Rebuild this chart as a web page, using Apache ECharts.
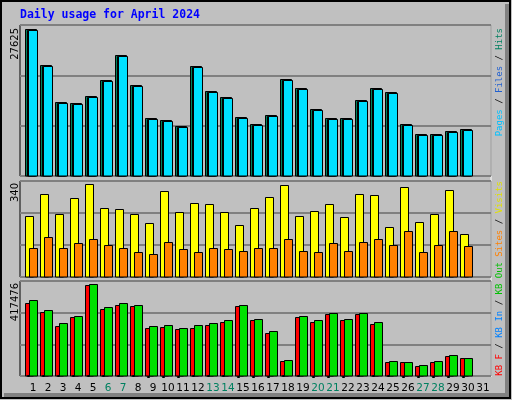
<!DOCTYPE html>
<html><head><meta charset="utf-8">
<script src="https://cdn.jsdelivr.net/npm/echarts@6/dist/echarts.min.js"></script>
<style>html,body{margin:0;padding:0;background:#c0c0c0}#c{width:512px;height:400px}</style>
</head><body><div id="c"></div>
<script>
const days = Array.from({length:31},(_,i)=>i+1);
const weekend = [6,7,13,14,20,21,27,28];
const hits  = [27625,20800,13850,13650,14980,18050,22690,17040,10840,10460,9340,20620,15920,14790,11030,9710,11400,18180,16480,12530,10840,10840,14220,16480,15730,9710,7830,7830,8400,8770,0];
const files = [27400,20620,13670,13480,14800,17860,22500,16860,10660,10280,9160,20440,15740,14610,10850,9530,11220,17990,16300,12350,10660,10660,14040,16300,15550,9530,7650,7650,8220,8590,0];
const pages = [27400,20620,13670,13480,14800,17860,22500,16860,10660,10280,9160,20440,15740,14610,10850,9530,11220,17990,16300,12350,10660,10660,14040,16300,15550,9530,7650,7650,8220,8590,0];
const visits = [222,303,230,289,340,252,248,230,197,314,237,270,266,237,189,252,292,338,222,241,266,219,303,300,182,329,200,230,318,156,0];
const sites  = [105,145,108,123,138,116,105,90,86,130,101,93,105,101,97,105,108,141,97,93,123,97,130,141,116,167,93,119,167,112,0];
const kbF   = [330300,289200,229800,266400,412500,302900,321100,316600,220700,225300,216100,220700,234400,248100,316600,252700,197900,70000,266400,248100,280000,252700,280000,239000,65400,65400,47200,65400,92800,83700,0];
const kbIn  = [4000,4000,4000,4000,4000,4000,4000,4000,2000,2000,2000,4000,4000,4000,2000,2000,2000,4000,4000,2000,2000,2000,4000,4000,4000,2000,2000,2000,2000,2000,0];
const kbOut = [344300,298700,239300,271300,417476,312400,330700,321500,225600,230200,216500,230200,239300,253000,321500,257600,202800,74900,271300,253000,285000,257600,285000,243900,70300,65800,52100,70300,97700,84000,0];
const maxLabels = ['27625','340','417476'];

const xmin = 1 - 11/15, xmax = xmin + 471/15;
function bars(idx, vals, off, w, color){
  return {type:'custom', xAxisIndex:idx, yAxisIndex:idx, data: days.map((d,i)=>[d, vals[i]]),
    renderItem:(p, api)=>{
      const v = api.value(1); if(!v) return null;
      const b = api.coord([api.value(0),0]), t = api.coord([api.value(0),v]);
      const x = Math.round(b[0]) + off + 0.5, y = Math.round(t[1]) + 0.5;
      return {type:'rect', shape:{x:x, y:y, width:w, height:Math.max(1,Math.round(b[1])-y)},
        style:{fill:color, stroke:'#000', lineWidth:1}};
    }};
}
const labelSeries = {type:'custom', xAxisIndex:2, yAxisIndex:2, data: days.map(d=>[d,0]),
  renderItem:(p, api)=>{
    const d = api.value(0); const c = api.coord([d,0]);
    return {type:'text', x:c[0]+2, y:c[1]+12, style:{text:String(d), textAlign:'center', textVerticalAlign:'middle',
      fill: weekend.includes(d)?'#008060':'#000', font:'10.5px "DejaVu Sans"'}};
  }};
const grids = [{left:20,width:471,top:25,height:151},{left:20,width:471,top:181,height:96},{left:20,width:471,top:281,height:95}]
  .map(g=>Object.assign(g,{show:true,backgroundColor:'#c0c0c0',borderColor:'#000',borderWidth:1}));
const ymax = [28400, 352, 432500];
const chart = echarts.init(document.getElementById('c'));
const T = (txt, x, y, size)=>({type:'text', x:x, y:y, rotation:Math.PI/2,
  style:{text:txt, textAlign:'right', textVerticalAlign:'middle', fill:'#000', font:size+'px "DejaVu Sans"'}});
const R = (txt, rich, x, y)=>({type:'text', x:x, y:y, rotation:Math.PI/2,
  style:{text:txt, rich:rich, textAlign:'right', textVerticalAlign:'middle', fill:'#000', font:'9px "DejaVu Sans Mono"'}});
const rs = c=>({fill:c, font:'9px "DejaVu Sans Mono"'});
chart.setOption({
  animation:false, backgroundColor:'#c0c0c0',
  grid: grids,
  xAxis: [0,1,2].map(i=>({type:'value', gridIndex:i, min:xmin, max:xmax, show:false})),
  yAxis: [0,1,2].map(i=>({type:'value', gridIndex:i, min:0, max:ymax[i], interval:ymax[i]/3,
    axisLabel:{show:false}, axisLine:{show:false}, axisTick:{show:false},
    splitLine:{show:true, lineStyle:{color:'#808080', width:2}}})),
  series:[
    bars(0, hits, -6, 11, '#00805c'), bars(0, files, -4, 8, '#0000ff'), bars(0, pages, -3, 9, '#00e0ff'),
    bars(1, visits, -6, 8, '#ffff00'), bars(1, sites, -2, 8, '#ff8000'),
    bars(2, kbF, -6, 8, '#ff0000'), bars(2, kbIn, -4, 2, '#0080ff'), bars(2, kbOut, -2, 8, '#00e000'),
    labelSeries
  ],
  graphic:[
    {type:'rect', shape:{x:1,y:1,width:509,height:397}, style:{fill:'none', stroke:'#000', lineWidth:2}, z:-1},
    {type:'line', shape:{x1:4,y1:395,x2:509,y2:395}, style:{stroke:'#808080', lineWidth:4}},
    {type:'line', shape:{x1:507,y1:4,x2:507,y2:396}, style:{stroke:'#808080', lineWidth:4}},
    {type:'line', shape:{x1:491,y1:25,x2:491,y2:377}, style:{stroke:'#fff', lineWidth:1}},
    {type:'text', x:20, y:15, style:{text:'Daily usage for April 2024', fill:'#0000ff', font:'bold 11.5px "DejaVu Sans Mono"', textVerticalAlign:'middle'}},
    T(maxLabels[0], 15, 28, 10), T(maxLabels[1], 15, 183, 10), T(maxLabels[2], 15, 283, 10),
    R('{p|Pages} / {f|Files} / {h|Hits}', {p:rs('#00c0ff'), f:rs('#2060d0'), h:rs('#008060')}, 500, 28),
    R('{s|Sites} / {v|Visits}', {s:rs('#ff8000'), v:rs('#e0e000')}, 500, 181),
    R('{f|KB F} / {i|KB In} / {o|KB Out}', {f:rs('#ff0000'), i:rs('#0080ff'), o:rs('#00c000')}, 500, 262)
  ]
});
</script></body></html>
